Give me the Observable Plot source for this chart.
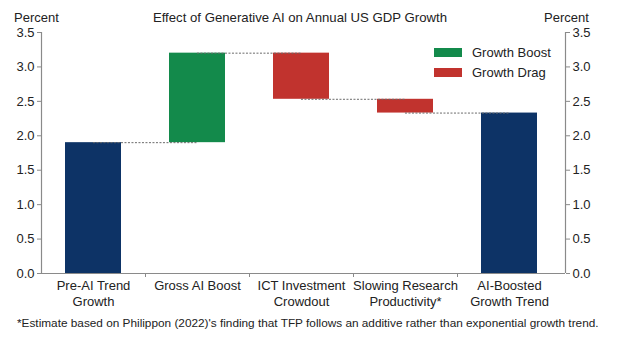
<!DOCTYPE html>
<html>
<head>
<meta charset="utf-8">
<script src="https://cdn.jsdelivr.net/npm/d3@7"></script>
<script src="https://cdn.jsdelivr.net/npm/@observablehq/plot@0.6"></script>
<style>
  html, body { margin: 0; padding: 0; background: #fff; }
  #wrap { position: relative; width: 618px; height: 343px; font-family: "Liberation Sans", Arial, sans-serif; color: #222; overflow: hidden; }
  #head { position: relative; height: 24px; font-size: 13px; }
  #head span { position: absolute; top: 10px; line-height: 16px; }
  #foot { font-size: 11.8px; line-height: 18px; padding-left: 17px; white-space: nowrap; }
  #legend { position: absolute; left: 434px; top: 42px; font-size: 13px; }
  .li { display: flex; align-items: center; height: 20px; }
  .sw { width: 28px; height: 9px; margin-right: 10px; }
</style>
</head>
<body>
<div id="wrap">
  <div id="head">
    <span id="pl" style="left:14px">Percent</span>
    <span id="title" style="left:0;width:600px;text-align:center;font-size:13.2px">Effect of Generative AI on Annual US GDP Growth</span>
    <span id="pr" style="left:544px">Percent</span>
  </div>
  <div id="chart"></div>
  <div id="foot"></div>
  <div id="legend"></div>
</div>
<script>
const categories = ["Pre-AI Trend\nGrowth", "Gross AI Boost", "ICT Investment\nCrowdout", "Slowing Research\nProductivity*", "AI-Boosted\nGrowth Trend"];
const kinds = ["total", "boost", "drag", "drag", "total"];
const increments = [1.9, 1.3, -0.67, -0.2]; // last bar is the running total
const yTicks = [0, 0.5, 1, 1.5, 2, 2.5, 3, 3.5];
const legendLabels = ["Growth Boost", "Growth Drag"];
const footnote = "*Estimate based on Philippon (2022)'s finding that TFP follows an additive rather than exponential growth trend.";
const colors = {total: "#0d3366", boost: "#138a4b", drag: "#c1332e"};

let run = 0;
const rows = categories.map((cat, i) => {
  if (kinds[i] === "total") {
    if (i === 0) run = increments[0];
    return {cat, kind: kinds[i], y1: 0, y2: run};
  }
  const y1 = run;
  run = +(run + increments[i]).toFixed(4);
  return {cat, kind: kinds[i], y1, y2: run};
});
const links = rows.slice(0, -1).map((r, i) => ({from: r.cat, to: rows[i + 1].cat, y: r.y2}));

const W = 618, H = 290, mL = 41, mR = 57, gapR = 4;
const step = (W - mL - mR) / categories.length;
const pad = 0.462;
const half = step * (1 - pad) / 2;
const axisColor = "#8a8a8a";

const chart = Plot.plot({
  width: W, height: H,
  marginTop: 8, marginBottom: 41, marginLeft: mL, marginRight: mR,
  style: {fontFamily: "'Liberation Sans', Arial, sans-serif", fontSize: "13px", color: "#222", background: "transparent", overflow: "visible"},
  x: {domain: categories, paddingInner: pad, paddingOuter: pad / 2, label: null},
  y: {domain: [0, 3.5], label: null},
  marks: [
    Plot.barY(rows, {x: "cat", y1: "y1", y2: "y2", fill: d => colors[d.kind]}),
    Plot.ruleY(links, {x1: "from", x2: "to", y: "y", insetLeft: half, insetRight: half, stroke: "#6a6a6a", strokeWidth: 1, strokeDasharray: "2,1.5"}),
    Plot.ruleY([0], {stroke: axisColor, strokeWidth: 1.2, insetRight: -gapR}),
    Plot.ruleX([categories[0]], {dx: -step / 2, stroke: axisColor, strokeWidth: 1.2}),
    Plot.ruleX([categories[categories.length - 1]], {dx: step / 2 + gapR, stroke: axisColor, strokeWidth: 1.2}),
    Plot.axisX({tickSize: 0, tickPadding: 6, lineHeight: 1.18, fill: "#222"}),
    Plot.axisX({ticks: categories.slice(0, -1), tickSize: 4, tickFormat: () => "", dx: step / 2, stroke: axisColor}),
    Plot.axisY({anchor: "left", ticks: yTicks, tickFormat: d3.format(".1f"), tickSize: 4, tickPadding: 3, stroke: axisColor, fill: "#222", label: null}),
    Plot.axisY({anchor: "right", ticks: yTicks, tickFormat: d3.format(".1f"), tickSize: 4, tickPadding: 3, dx: gapR, stroke: axisColor, fill: "#222", label: null})
  ]
});
document.getElementById("chart").appendChild(chart);
document.getElementById("foot").textContent = footnote;

const legend = document.getElementById("legend");
[["boost", legendLabels[0]], ["drag", legendLabels[1]]].forEach(([k, lab]) => {
  const li = document.createElement("div");
  li.className = "li";
  const sw = document.createElement("div");
  sw.className = "sw";
  sw.style.background = colors[k];
  const t = document.createElement("span");
  t.textContent = lab;
  li.appendChild(sw); li.appendChild(t);
  legend.appendChild(li);
});
</script>
</body>
</html>
